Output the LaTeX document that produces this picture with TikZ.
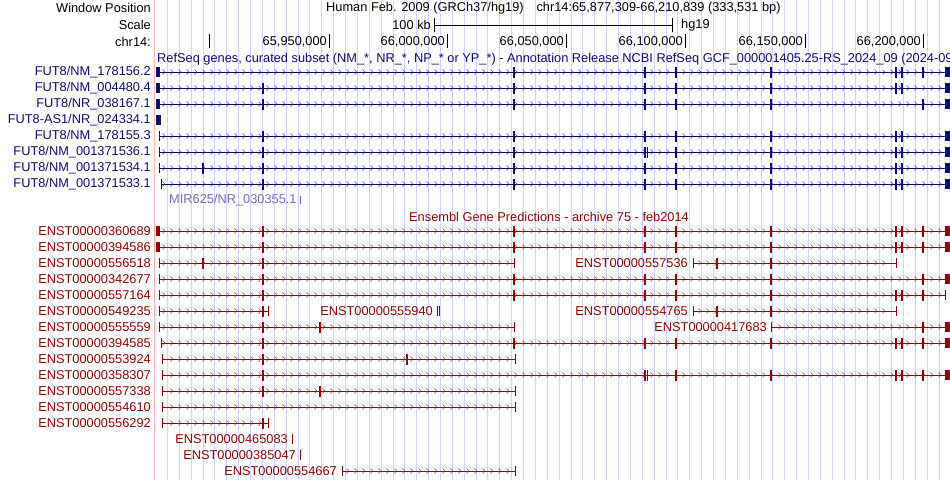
\documentclass[tikz,border=0pt]{standalone}
\usepackage{fontspec}
\setmainfont{Liberation Sans}
\definecolor{refblue}{RGB}{12,12,120}
\definecolor{ensred}{RGB}{150,0,0}
\definecolor{mirblue}{RGB}{110,110,190}
\definecolor{gridblue}{RGB}{210,210,255}
\definecolor{pinkline}{RGB}{255,175,175}
\tikzset{
  lab/.style = {anchor=east, inner sep=0pt, font=\fontsize{12.8}{14}\selectfont},
  txt/.style = {anchor=west, inner sep=0pt, font=\fontsize{12.8}{14}\selectfont},
  chev/.style = {line width=0.4pt, opacity=0.75},
  exon/.style = {line width=1.1pt},
  blk/.style = {fill, draw=none}
}
% y, start, end, exons
\newcommand\txline[4]{%
  \draw[line width=0.8pt] (#2,#1) -- (#3,#1);
  \draw[line width=0.8pt] (#2,#1-5) -- (#2,#1+5) (#3,#1-5) -- (#3,#1+5);
  \foreach \c in {165,173,...,947}{
    \pgfmathparse{and(\c>#2+3,\c<#3-3)}
    \ifdim\pgfmathresult pt>0.5pt \draw[chev] (\c-2.5,#1-2.5) -- (\c,#1) -- (\c-2.5,#1+2.5);\fi}
  \foreach \e in {#4}{\draw[exon] (\e,#1-5.5) -- (\e,#1+5.5);}
}
\begin{document}
\begin{tikzpicture}[x=1pt, y=-1pt]
  \useasboundingbox (0,0) rectangle (950,480);
  \fill[white] (0,0) rectangle (950,480);

  % grid
  \foreach \g in {0,...,66}
    \draw[gridblue, line width=0.8pt] (167.4+11.87*\g,0) -- (167.4+11.87*\g,480);
  \draw[pinkline, line width=1pt] (154.5,0) -- (154.5,480);

  % header
  \node[lab] (winpos) at (151,8) {Window Position};
  \node[txt] (title) at (326,8) {Human Feb. 2009 (GRCh37/hg19)\quad chr14:65,877,309-66,210,839 (333,531 bp)};
  \node[lab] (scale) at (151,25) {Scale};
  \node[lab] (kb) at (431,25) {100 kb};
  \coordinate (sa) at (434,25);
  \coordinate (sb) at (672,25);
  \draw[line width=0.8pt] (sa) -- (sb) (434,18) -- (434,32) (672,18) -- (672,32);
  \node[txt] (hg) at (681,25) {hg19};
  \node[lab] (chr) at (151,42) {chr14:};
  \foreach \t/\l in {209/,329/65{,}950{,}000,447/66{,}000{,}000,566/66{,}050{,}000,685/66{,}100{,}000,805/66{,}150{,}000,923/66{,}200{,}000}{
    \draw[line width=0.9pt] (\t,34) -- (\t,48);
    \node[lab] at (\t-2,42) {\l};
  }

  % RefSeq track
  \begin{scope}[refblue]
    \node[txt] (refhead) at (157,59) {RefSeq genes, curated subset (NM\_*, NR\_*, NP\_* or YP\_*) - Annotation Release NCBI RefSeq GCF\_000001405.25-RS\_2024\_09 (2024-09)};
    \foreach \y/\n in {72/FUT8\slash NM\_178156.2,88/FUT8\slash NM\_004480.4,104/FUT8\slash NR\_038167.1,120/FUT8-AS1\slash NR\_024334.1,136/FUT8\slash NM\_178155.3,152/FUT8\slash NM\_001371536.1,168/FUT8\slash NM\_001371534.1,184/FUT8\slash NM\_001371533.1}
      \node[lab] at (151,\y) {\n};
    \txline{72}{157}{947}{514,645,676,771,896,902,923}
    \txline{88}{157}{947}{263,514,645,676,771,896,902}
    \txline{104}{157}{947}{263,514,645,676,771,923}
    \txline{136}{159}{947}{263,514,645,676,771,896,902}
    \txline{152}{159}{947}{263,514,645,647.5,676,771,896,902}
    \txline{168}{159}{947}{203,263,514,645,676,771,896,902}
    \txline{184}{161}{947}{263,514,645,676,771,896,902}
    \foreach \y in {72,88,104}{
      \fill (156,\y-5) rectangle (160,\y+5);
      \fill (945,\y-5) rectangle (950,\y+5);}
    \fill (156,115) rectangle (161,125);
    \foreach \y in {136,152,168,184} \fill (945,\y-5) rectangle (950,\y+5);
  \end{scope}
  \node[txt, mirblue] (mir) at (169,200) {MIR625/NR\_030355.1};
  \draw[mirblue, line width=0.8pt] (mir.east) ++(4,-4) -- ++(0,8);

  % Ensembl track
  \begin{scope}[ensred]
    \node[txt] (enshead) at (409,217) {Ensembl Gene Predictions - archive 75 - feb2014};
    \foreach \y/\n in {231/360689,247/394586,263/556518,279/342677,295/557164,311/549235,327/555559,343/394585,359/553924,375/358307,391/557338,407/554610,423/556292}
      \node[lab] at (151,\y) {ENST00000\n};
    \txline{231}{157}{947}{263,514,645,676,771,896,902,923}
    \txline{247}{157}{947}{263,514,645,676,771,896,902,923}
    \txline{263}{159}{514}{203,263}
    \txline{279}{159}{947}{263,514,645,676,771,923}
    \txline{295}{159}{945}{263,514,645,676,771,896,902,923}
    \txline{311}{159}{268}{263}
    \txline{327}{159}{514}{263,320}
    \txline{343}{161}{947}{263,514,645,676,771,896,902,923}
    \txline{359}{162}{515}{263,407}
    \txline{375}{162}{947}{263,645,647.5,676,771,896,902,923}
    \txline{391}{162}{515}{263,320}
    \txline{407}{162}{515}{}
    \txline{423}{162}{268}{263}
    \foreach \y in {231,247} \fill (156,\y-5) rectangle (160,\y+5);
    \foreach \y in {231,247,279,343,375} \fill (945,\y-5) rectangle (950,\y+5);
    % transcripts with labels in the rows
    \node[lab] (e557536) at (688,263) {ENST00000557536};
    \txline{263}{693}{896}{717,771}
    \node[lab] (e555940) at (433,311) {ENST00000555940};
    \draw[line width=0.8pt] (437,306) -- (437,316) (439.5,306) -- (439.5,316);
    \node[lab] (e554765) at (688,311) {ENST00000554765};
    \txline{311}{693}{896}{717,771}
    \node[lab] (e417683) at (767,327) {ENST00000417683};
    \txline{327}{771}{947}{923}
    \fill (945,322) rectangle (950,332);
    \node[lab] (e465083) at (288,439) {ENST00000465083};
    \draw[line width=0.8pt] (292,434) -- (292,444);
    \node[lab] (e385047) at (296,455) {ENST00000385047};
    \draw[line width=0.8pt] (300,450) -- (300,460);
    \node[lab] (e554667) at (337,471) {ENST00000554667};
    \txline{471}{342}{515}{}
  \end{scope}
\end{tikzpicture}
\end{document}
